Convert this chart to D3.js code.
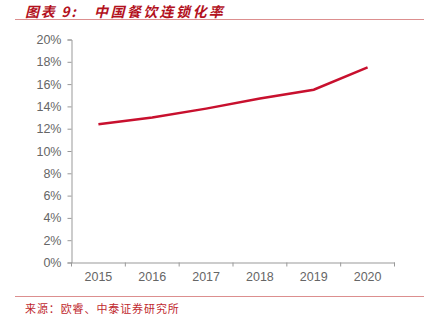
<!DOCTYPE html>
<html><head><meta charset="utf-8">
<script src="https://cdn.jsdelivr.net/npm/d3@7"></script>
<style>
body{margin:0;background:#fff;}
svg{display:block;}
</style></head>
<body>
<script>
const years = ["2015","2016","2017","2018","2019","2020"];
const chainRate = [12.4, 13.0, 13.8, 14.7, 15.5, 17.5];
const yTicks = [0,2,4,6,8,10,12,14,16,18,20];
const titleLabel = "图表 9:";
const titleText = "中国餐饮连锁化率";
const sourceText = "来源：欧睿、中泰证券研究所";

const W = 429, H = 322;
const svg = d3.select("body").append("svg").attr("width", W).attr("height", H);

// title
const tFont = "'Noto Sans CJK SC', sans-serif";
svg.append("text").attr("x", 25).attr("y", 16.5)
  .attr("font-family", tFont).attr("font-size", 14).attr("font-weight", "bold")
  .attr("font-style", "italic").attr("letter-spacing", 1.7)
  .attr("fill", "#b3121e").text(titleLabel);
svg.append("text").attr("x", 94).attr("y", 16.5)
  .attr("font-family", tFont).attr("font-size", 14).attr("font-weight", "bold")
  .attr("font-style", "italic").attr("letter-spacing", 2.4)
  .attr("fill", "#b3121e").text(titleText);
svg.append("line").attr("x1", 15).attr("x2", 424).attr("y1", 19.5).attr("y2", 19.5)
  .attr("stroke", "#dc8f8f").attr("stroke-width", 1);

// footer
svg.append("line").attr("x1", 15).attr("x2", 424).attr("y1", 296.5).attr("y2", 296.5)
  .attr("stroke", "#dc8f8f").attr("stroke-width", 1);
svg.append("text").attr("x", 25).attr("y", 313)
  .attr("font-family", "'Noto Sans CJK SC', serif")
  .attr("font-size", 11).attr("letter-spacing", 0.9).attr("fill", "#c0282e").text(sourceText);

const x = d3.scaleBand().domain(years).range([71.5, 394.5]);
const y = d3.scaleLinear().domain([0, 20]).range([262.5, 39.5]);

const yAxis = svg.append("g").attr("transform", "translate(71.5,0)")
  .call(d3.axisLeft(y).tickValues(yTicks).tickFormat(d => d + "%").tickSize(4).tickPadding(6));
const xAxis = svg.append("g").attr("transform", "translate(0,262.5)")
  .call(d3.axisBottom(x).tickSize(0).tickPadding(10));
// x boundary ticks
const bounds = years.map(d => x(d)).concat([x(years[years.length-1]) + x.bandwidth()]);
xAxis.selectAll(".bt").data(bounds).enter().append("line")
  .attr("x1", d => d).attr("x2", d => d).attr("y1", 0).attr("y2", 4)
  .attr("stroke", "#999");

[yAxis, xAxis].forEach(g => {
  g.select(".domain").attr("stroke", "#999");
  g.selectAll(".tick line").attr("stroke", "#999");
  g.selectAll("text").attr("fill", "#666").attr("font-size", 12.5)
    .attr("font-family", "'Liberation Sans', Arial, sans-serif");
});

const line = d3.line().x((d, i) => x(years[i]) + x.bandwidth() / 2).y(d => y(d));
svg.append("path").datum(chainRate).attr("d", line)
  .attr("fill", "none").attr("stroke", "#c8102e").attr("stroke-width", 2.5);
</script>
</body></html>
